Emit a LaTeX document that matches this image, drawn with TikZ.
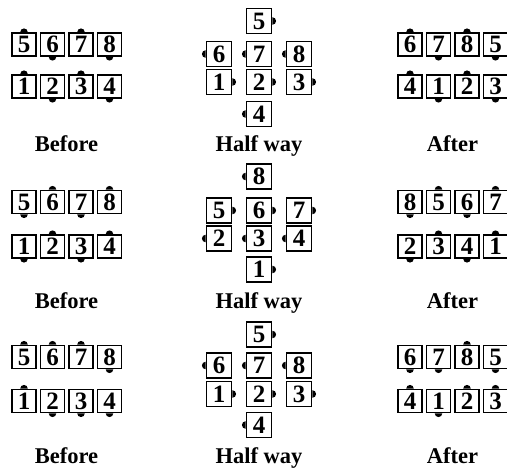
\documentclass[tikz,border=0pt]{standalone}
\usepackage{fontspec}
\setmainfont{Liberation Serif}
\tikzset{
  tilebox/.style={draw, line width=1.6pt, minimum width=24pt, minimum height=23pt,
    inner sep=0pt, font=\fontsize{25}{25}\selectfont\bfseries},
  hwbox/.style={tilebox, minimum width=25pt, minimum height=25pt},
  caption/.style={font=\fontsize{22.5}{22.5}\selectfont\bfseries, anchor=base},
  knob/.style={fill=black}
}
\newcommand\knobN[1]{\fill[knob] (#1.north) ++(-3.8pt,0) arc[start angle=180,end angle=0,radius=3.8pt] -- cycle;}
\newcommand\knobS[1]{\fill[knob] (#1.south) ++(-3.8pt,0) arc[start angle=180,end angle=360,radius=3.8pt] -- cycle;}
\newcommand\knobW[1]{\fill[knob] (#1.west) ++(0,3.8pt) arc[start angle=90,end angle=270,radius=3.8pt] -- cycle;}
\newcommand\knobE[1]{\fill[knob] (#1.east) ++(0,-3.8pt) arc[start angle=-90,end angle=90,radius=3.8pt] -- cycle;}
\newcommand\tile[6]{\node[#6] (#1) at (#2,-#3) {#4}; \csname knob#5\endcsname{#1}}
\newcommand\tilerow[4]{\foreach \n/\s [count=\i from 0] in {#4} {\tile{#1\n}{#2+\i*28.5}{#3}{\n}{\s}{tilebox}}}
\begin{document}
\begin{tikzpicture}[x=1pt,y=1pt]
\useasboundingbox (0,0) rectangle (507,-468);
% ---------- Set 1 ----------
\tilerow{aBu}{24}{44.5}{5/N,6/S,7/N,8/S}
\tilerow{aBl}{24}{86.5}{1/N,2/S,3/N,4/S}
\tile{aH5}{259}{21}{5}{E}{hwbox}
\tile{aH6}{219}{54}{6}{W}{hwbox}
\tile{aH7}{259}{54}{7}{W}{hwbox}
\tile{aH8}{299}{54}{8}{W}{hwbox}
\tile{aH1}{219}{82}{1}{E}{hwbox}
\tile{aH2}{259}{82}{2}{E}{hwbox}
\tile{aH3}{299}{82}{3}{E}{hwbox}
\tile{aH4}{259}{114}{4}{W}{hwbox}
\tilerow{aAu}{410}{44.5}{6/N,7/S,8/N,5/S}
\tilerow{aAl}{410}{86.5}{4/N,1/S,2/N,3/S}
\node[caption] (aLB) at (66.5,-152) {Before};
\node[caption] (aLH) at (259,-152) {Half way};
\node[caption] (aLA) at (452.5,-152) {After};
% ---------- Set 2 ----------
\tilerow{bBu}{24}{202}{5/S,6/N,7/S,8/N}
\tilerow{bBl}{24}{246.5}{1/S,2/N,3/S,4/N}
\tile{bH8}{259}{176.5}{8}{W}{hwbox}
\tile{bH5}{219}{210.5}{5}{E}{hwbox}
\tile{bH6}{259}{210.5}{6}{E}{hwbox}
\tile{bH7}{299}{210.5}{7}{E}{hwbox}
\tile{bH2}{219}{238.5}{2}{W}{hwbox}
\tile{bH3}{259}{238.5}{3}{W}{hwbox}
\tile{bH4}{299}{238.5}{4}{W}{hwbox}
\tile{bH1}{259}{269.5}{1}{E}{hwbox}
\tilerow{bAu}{410}{202}{8/S,5/N,6/S,7/N}
\tilerow{bAl}{410}{246.5}{2/S,3/N,4/S,1/N}
\node[caption] (bLB) at (66.5,-309) {Before};
\node[caption] (bLH) at (259,-309) {Half way};
\node[caption] (bLA) at (452.5,-309) {After};
% ---------- Set 3 ----------
\tilerow{cBu}{24}{357}{5/N,6/N,7/N,8/S}
\tilerow{cBl}{24}{401}{1/N,2/S,3/S,4/S}
\tile{cH5}{259}{334.5}{5}{E}{hwbox}
\tile{cH6}{219}{365.5}{6}{W}{hwbox}
\tile{cH7}{259}{365.5}{7}{W}{hwbox}
\tile{cH8}{299}{365.5}{8}{W}{hwbox}
\tile{cH1}{219}{394}{1}{E}{hwbox}
\tile{cH2}{259}{394}{2}{E}{hwbox}
\tile{cH3}{299}{394}{3}{E}{hwbox}
\tile{cH4}{259}{425}{4}{W}{hwbox}
\tilerow{cAu}{410}{357}{6/S,7/S,8/N,5/S}
\tilerow{cAl}{410}{401}{4/N,1/S,2/N,3/N}
\node[caption] (cLB) at (66.5,-464) {Before};
\node[caption] (cLH) at (259,-464) {Half way};
\node[caption] (cLA) at (452.5,-464) {After};
\end{tikzpicture}
\end{document}
